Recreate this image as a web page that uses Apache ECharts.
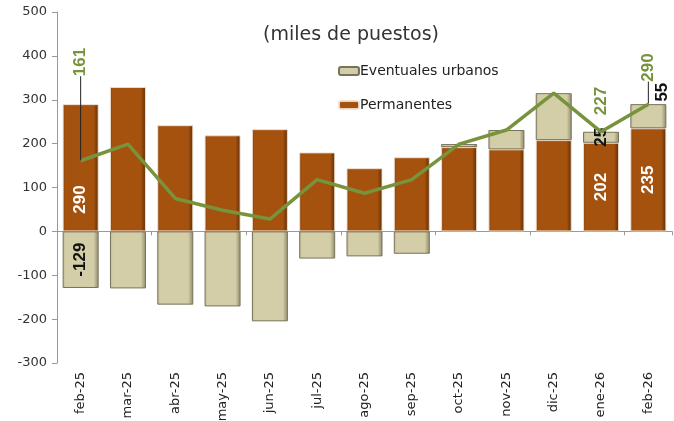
<!DOCTYPE html>
<html><head><meta charset="utf-8">
<script src="https://cdn.jsdelivr.net/npm/echarts@6/dist/echarts.min.js"></script>
<style>html,body{margin:0;padding:0;background:#fff}#c{width:674px;height:421px}</style>
</head><body><div id="c"></div>
<script>
const categories = ['feb-25','mar-25','abr-25','may-25','jun-25','jul-25','ago-25','sep-25','oct-25','nov-25','dic-25','ene-26','feb-26'];
const permanentes = [290,329,242,219,233,180,144,169,192,187,208,202,235];
const eventuales = [-129,-130,-167,-171,-205,-62,-57,-51,7,44,107,25,55];
const total = [161,199,75,48,28,118,87,118,199,231,315,227,290];
const yTicks = {min:-300, max:500, interval:100};

const FONT = 'DejaVu Sans';
const GREEN = '#77933C';
const lbl = {show:true, rotate:90, fontFamily:'Liberation Sans', fontWeight:'bold', fontSize:17};

const permLabels = {0:{position:['50%','75%']}, 11:{position:'inside'}, 12:{position:'inside'}};
const evLabels = {0:{position:'inside'}, 11:{position:'inside'}, 12:{position:['88%',-12]}};
const totLabels = {0:79, 11:11, 12:17};

const permGrad = {type:'linear',x:0,y:0,x2:1,y2:0,colorStops:[
  {offset:0,color:'#8a4409'},{offset:0.08,color:'#a5520f'},{offset:0.86,color:'#a5520f'},{offset:1,color:'#5a2c05'}]};
const evGrad = {type:'linear',x:0,y:0,x2:1,y2:0,colorStops:[
  {offset:0,color:'#bdb893'},{offset:0.08,color:'#d3cea7'},{offset:0.86,color:'#d3cea7'},{offset:1,color:'#8d896c'}]};

const option = {
  animation:false,
  title:{text:'(miles de puestos)', left:258, top:21, textStyle:{fontFamily:FONT, fontWeight:'normal', fontSize:19, color:'#333'}},
  legend:{data:['Eventuales urbanos','Permanentes'], orient:'vertical', left:338, top:64, padding:0, itemWidth:20, itemHeight:8, itemGap:20,
    textStyle:{fontFamily:FONT, fontSize:14, color:'#222', padding:[0,0,0,-4]}},
  grid:{left:57, right:2, top:12, bottom:58, outerBoundsMode:'none', containLabel:false},
  xAxis:[
    {type:'category', data:categories, axisLine:{onZero:true, lineStyle:{color:'#999'}}, axisTick:{show:true, length:4, lineStyle:{color:'#999'}}, axisLabel:{show:false}},
    {type:'category', data:categories, position:'bottom', axisLine:{show:false, onZero:false}, axisTick:{show:false},
     axisLabel:{rotate:90, margin:9, fontFamily:FONT, fontSize:13, color:'#222'}}
  ],
  yAxis:{type:'value', min:yTicks.min, max:yTicks.max, interval:yTicks.interval, splitLine:{show:false},
    axisLine:{show:true, lineStyle:{color:'#999'}}, axisTick:{show:true, length:5, lineStyle:{color:'#999'}},
    axisLabel:{fontFamily:FONT, fontSize:13, color:'#333', margin:10}},
  series:[
    {name:'Permanentes', type:'bar', stack:'a', barWidth:36, xAxisIndex:0,
     itemStyle:{color:permGrad, borderColor:'rgba(240,225,210,0.9)', borderWidth:1},
     data: permanentes.map((v,i)=>permLabels[i]?{value:v,label:Object.assign({},lbl,{color:'#fff',align:'center',verticalAlign:'middle'},permLabels[i])}:v)},
    {name:'Eventuales urbanos', type:'bar', stack:'a', barWidth:36, xAxisIndex:0,
     itemStyle:{color:evGrad, borderColor:'#77735b', borderWidth:1},
     data: eventuales.map((v,i)=>evLabels[i]?{value:v,label:Object.assign({},lbl,{color:'#111',align:'center',verticalAlign:'middle'},evLabels[i])}:v)},
    {name:'Total', type:'line', xAxisIndex:0, symbol:'circle', symbolSize:1, showSymbol:true, lineStyle:{color:GREEN, width:3.5}, itemStyle:{color:'rgba(0,0,0,0)'}, z:5,
     labelLine:{show:true, lineStyle:{color:'#222', width:1}},
     labelLayout:function(p){ const d = totLabels[p.dataIndex]; return d!==undefined?{dx:d}:{}; },
     data: total.map((v,i)=>totLabels[i]!==undefined?{value:v,
        label:Object.assign({},lbl,{color:GREEN, position:'top', distance:5, align:'left', verticalAlign:'middle'}),
        labelLine:{show: i!==11}}:v)}
  ]
};
const chart = echarts.init(document.getElementById('c'), null, {renderer:'canvas'});
chart.setOption(option);
</script></body></html>
